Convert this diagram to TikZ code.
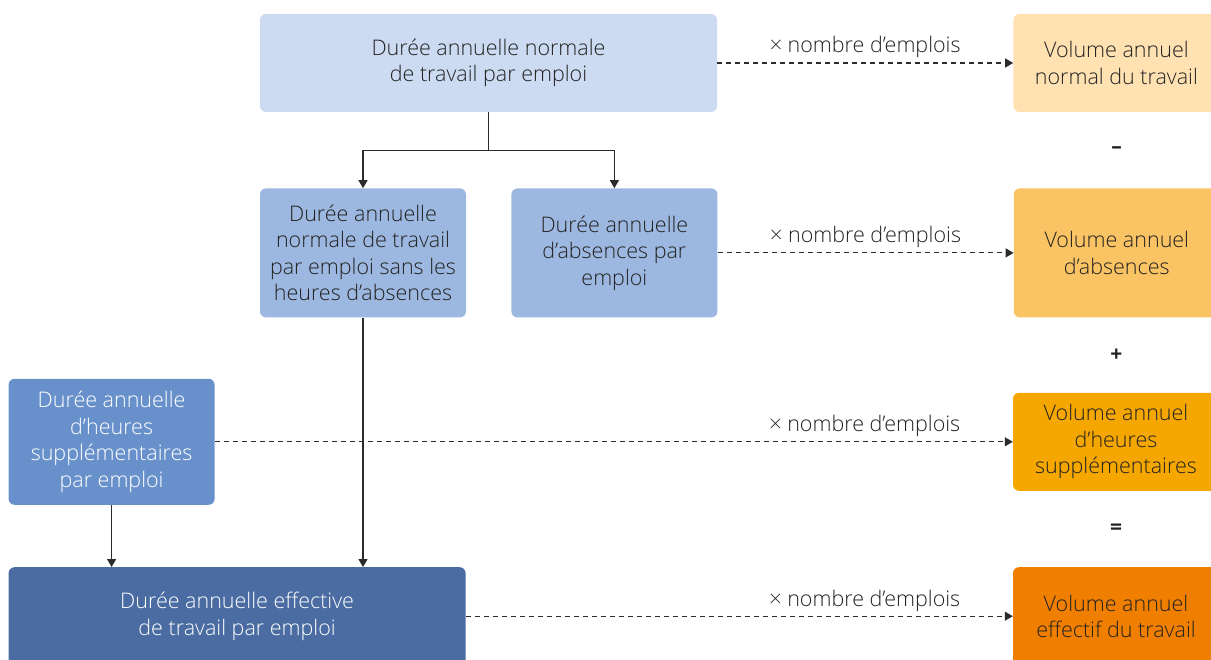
\documentclass[tikz,border=0pt]{standalone}
\usepackage{fontspec}
\setmainfont{Open Sans}[UprightFont=* Light, BoldFont=* Bold]
\usetikzlibrary{positioning,calc,arrows.meta}
\definecolor{normblue}{HTML}{CCDBF1}
\definecolor{midblue}{HTML}{9DB8E0}
\definecolor{supblue}{HTML}{6891CB}
\definecolor{darkblue}{HTML}{4A6CA2}
\definecolor{volA}{HTML}{FFE1B2}
\definecolor{volB}{HTML}{FAC364}
\definecolor{volC}{HTML}{F5A700}
\definecolor{volD}{HTML}{F07F00}
\definecolor{txt}{HTML}{222222}
\definecolor{arr}{HTML}{2B2B2B}
\tikzset{box/.style={rounded corners=6pt,align=center,inner sep=0pt,text=txt,
    font=\fontsize{21.5}{26.5}\selectfont},
  wide box/.style={box,minimum width=457pt,minimum height=98pt},
  small box/.style={box,minimum width=206pt,minimum height=129pt},
  flow/.style={draw=arr,line width=1.2pt,-{Triangle[length=8pt,width=9pt]}},
  mult/.style={flow,dash pattern=on 5pt off 4pt},
  mult label/.style={pos=1,anchor=base east,xshift=-52pt,yshift=10pt,inner sep=0pt,
    text=txt,font=\fontsize{21.5}{24}\selectfont},
  op/.style={font=\fontsize{21}{24}\bfseries,text=txt}
}

\begin{document}
\begin{tikzpicture}[x=1pt,y=1pt]
		\useasboundingbox (0,0) rectangle (1211,-660);
		% durées par emploi
		\node[wide box,fill=normblue] (norm) at (488.5,-63) {Durée annuelle normale\\de travail par emploi};
		\node[small box,fill=midblue] (sans) [below right=76pt and 0pt of norm.south west] {Durée annuelle\\normale de travail\\par emploi sans les\\heures d’absences};
		\node[small box,fill=midblue] (abs) [right=45pt of sans] {Durée annuelle\\d’absences par\\emploi};
		\node[small box,fill=supblue,text=white,minimum height=126pt] (sup) [below left=61pt and 45pt of sans.south west] {Durée annuelle\\d’heures\\supplémentaires\\par emploi};
		\node[wide box,fill=darkblue,text=white] (eff) [below right=62pt and 0pt of sup.south west] {Durée annuelle effective\\de travail par emploi};
		
		% volumes
		\node[small box,fill=volA,minimum height=98pt] (vnorm) [right=296pt of norm] {Volume annuel\\normal du travail};
		\node[small box,fill=volB] (vabs) [right=296pt of abs] {Volume annuel\\d’absences};
		\node[small box,fill=volC,minimum height=98pt] (vsup) [right=798pt of sup] {Volume annuel\\d’heures\\supplémentaires};
		\node[small box,fill=volD,minimum height=98pt] (veff) [right=547pt of eff] {Volume annuel\\effectif du travail};
		
		\node[op] (minus) at ($(vnorm.south)!0.5!(vabs.north)$) {–};
		\node[op] (plus) at ($(vabs.south)!0.5!(vsup.north)$) {+};
		\node[op] (equal) at ($(vsup.south)!0.5!(veff.north)$) {=};
		
		\coordinate (split) at ($(norm.south)+(0,-38)$);
		\draw[flow] (norm.south) -- (split) -| (sans.north);
		\draw[flow] (split) -| (abs.north);
		\draw[flow] (sans.south) -- (sans.south |- eff.north);
		\draw[flow] (sup.south) -- (sup.south |- eff.north);
		
		\path
		(norm.east) edge[mult] node[mult label] {× nombre d’emplois} (vnorm.west)
		(abs.east) edge[mult] node[mult label] {× nombre d’emplois} (vabs.west)
		(sup.east) edge[mult] node[mult label] {× nombre d’emplois} (vsup.west)
		(eff.east) edge[mult] node[mult label] {× nombre d’emplois} (veff.west)
		;
\end{tikzpicture}
\end{document}
